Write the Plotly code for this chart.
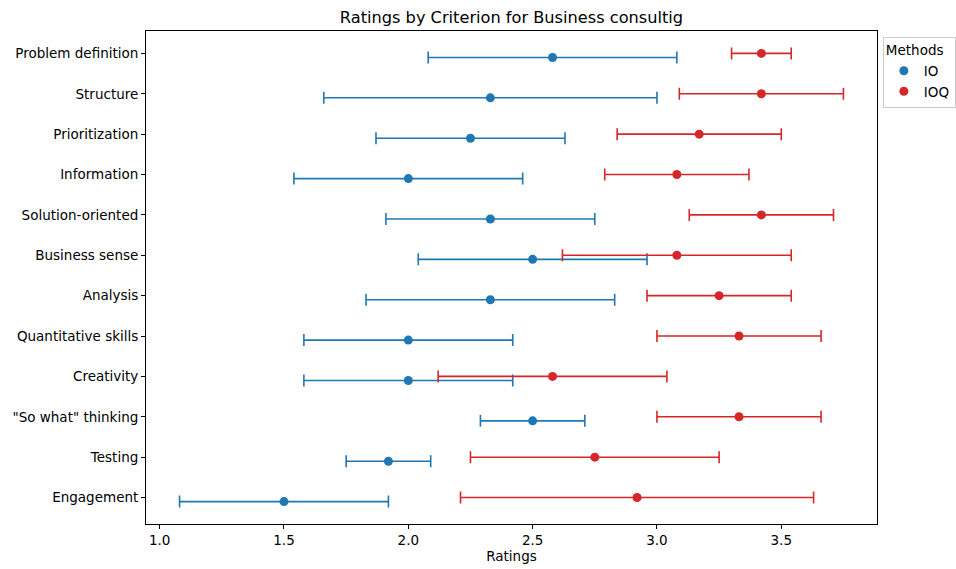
import plotly.graph_objects as go

criteria = ["Problem definition", "Structure", "Prioritization", "Information",
            "Solution-oriented", "Business sense", "Analysis", "Quantitative skills",
            "Creativity", "\"So what\" thinking", "Testing", "Engagement"]

io_mean = [2.58, 2.33, 2.25, 2.00, 2.33, 2.50, 2.33, 2.00, 2.00, 2.50, 1.92, 1.50]
io_err = [0.50, 0.67, 0.38, 0.46, 0.42, 0.46, 0.50, 0.42, 0.42, 0.21, 0.17, 0.42]
ioq_mean = [3.42, 3.42, 3.17, 3.08, 3.42, 3.08, 3.25, 3.33, 2.58, 3.33, 2.75, 2.92]
ioq_err = [0.12, 0.33, 0.33, 0.29, 0.29, 0.46, 0.29, 0.33, 0.46, 0.33, 0.50, 0.71]

n = len(criteria)
pos = [n - 1 - i for i in range(n)]
io_pos = [p - 0.1 for p in pos]

FONT = "DejaVu Sans"
BLUE = "#1f77b4"
RED = "#d62728"

fig = go.Figure()
fig.add_trace(go.Scatter(
    x=io_mean, y=io_pos, mode="markers", name="IO",
    marker=dict(color=BLUE, size=9),
    error_x=dict(type="data", array=io_err, visible=True, color=BLUE, thickness=1.6, width=6),
    hovertext=criteria,
))
fig.add_trace(go.Scatter(
    x=ioq_mean, y=pos, mode="markers", name="IOQ",
    marker=dict(color=RED, size=9),
    error_x=dict(type="data", array=ioq_err, visible=True, color=RED, thickness=1.6, width=6),
    hovertext=criteria,
))

fig.update_layout(
    width=956, height=569,
    margin=dict(l=146, r=79, t=31, b=45, autoexpand=False),
    paper_bgcolor="white", plot_bgcolor="white",
    font=dict(family=FONT, size=13.5, color="black"),
    title=dict(text="Ratings by Criterion for Business consultig", x=(146 + 877) / 2 / 956,
               xanchor="center", y=1 - 17 / 569, yanchor="middle",
               font=dict(family=FONT, size=16.2, color="black")),
    showlegend=True,
    legend=dict(title=dict(text="Methods", font=dict(size=13.5)),
                x=1.008, y=0.988, xanchor="left", yanchor="top",
                bordercolor="#cccccc", borderwidth=1, bgcolor="white",
                font=dict(size=13.5), itemwidth=30, tracegroupgap=0),
)
fig.update_xaxes(
    range=[0.945, 3.885], tickvals=[1.0, 1.5, 2.0, 2.5, 3.0, 3.5],
    ticktext=["1.0", "1.5", "2.0", "2.5", "3.0", "3.5"], automargin=False,
    showgrid=False, zeroline=False, showline=True, linecolor="black", linewidth=1,
    mirror=True, ticks="outside", ticklen=4, tickcolor="black",
    title=dict(text="Ratings", font=dict(size=13.5), standoff=2),
)
fig.update_yaxes(
    range=[-0.655, 11.555], tickvals=pos, ticktext=criteria, automargin=False,
    showgrid=False, zeroline=False, showline=True, linecolor="black", linewidth=1,
    mirror=True, ticks="outside", ticklen=4, tickcolor="black",
)

fig.write_html("out.html", config={"displayModeBar": False},
               post_script="document.body.style.margin='0';")
